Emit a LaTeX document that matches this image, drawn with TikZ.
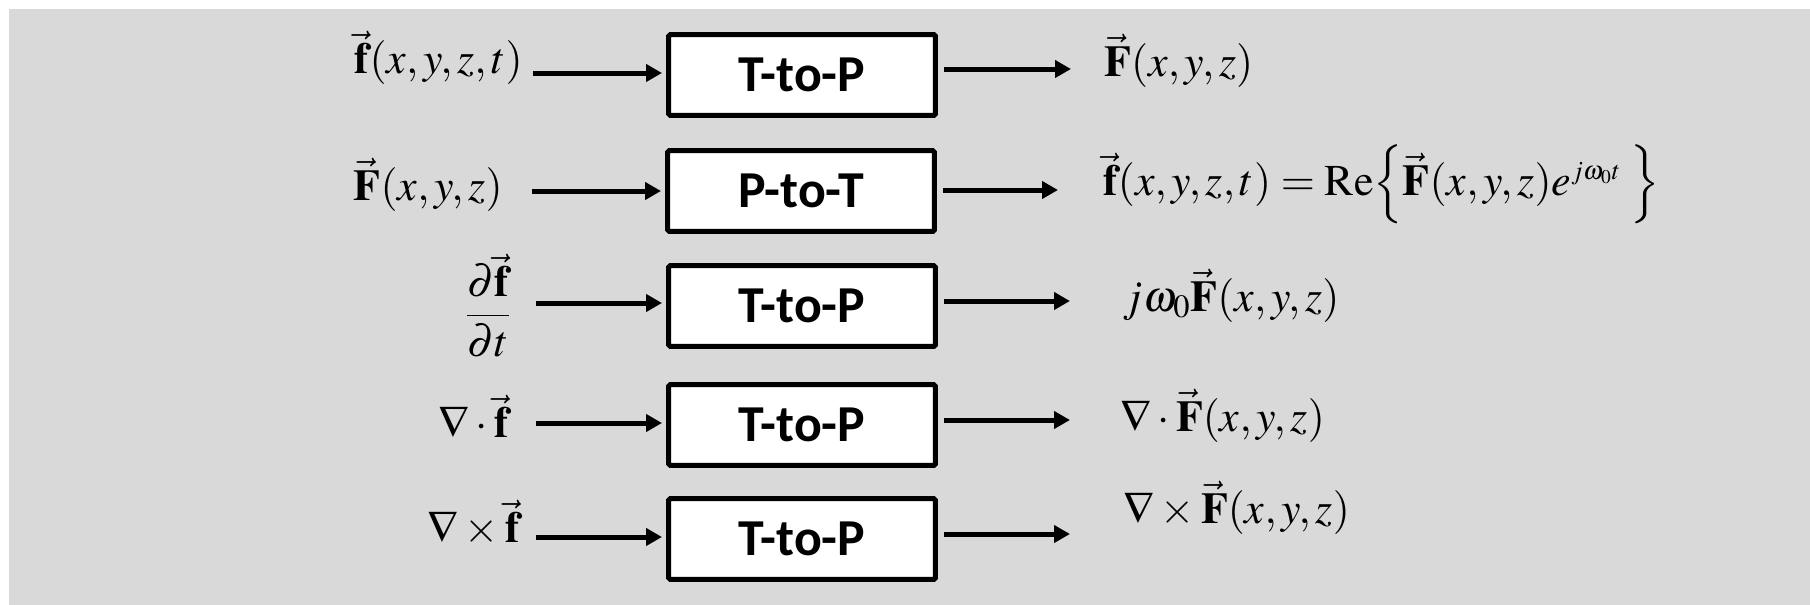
\documentclass[tikz,border=0pt]{standalone}
\usepackage{mathptmx}
\usepackage[no-math]{fontspec}
\newfontfamily\boxfont{Carlito}
\usetikzlibrary{arrows.meta}
\definecolor{panel}{HTML}{D9D9D9}
\newcommand{\phasor}{\mbox{\fontsize{15}{15}\selectfont$j\omega_0t$}}

\begin{document}
\begin{tikzpicture}[x=0.02cm,y=-0.02cm,
  blk/.style={draw,line width=0.1cm,fill=white,rounded corners=1pt,
    minimum width=5.34cm,minimum height=1.62cm,inner sep=0pt,
    font=\boxfont\bfseries\fontsize{29.5}{32}\selectfont},
  arr/.style={line width=0.1cm,-{Triangle[length=0.32cm,width=0.34cm]}},
  lbl/.style={inner sep=0pt,font=\fontsize{25}{30}\selectfont}]
  \useasboundingbox (0,0) rectangle (1810,605);
  \fill[white] (0,0) rectangle (1810,605);
  \fill[panel] (9,9) rectangle (1810,605);

  % the five blocks
  \node[blk] (b1) at (802,75) {T-to-P};
  \node[blk] (b2) at (801,191) {P-to-T};
  \node[blk] (b3) at (802,306) {T-to-P};
  \node[blk] (b4) at (802,425) {T-to-P};
  \node[blk] (b5) at (802,539) {T-to-P};

  % inputs
  \node[lbl,anchor=base east] (in1) at (523,73) {$\vec{\mathbf{f}}(x,y,z,t)$};
  \node[lbl,anchor=base east] (in2) at (503,200) {$\vec{\mathbf{F}}(x,y,z)$};
  \node[lbl] (in3) at (488,306) {$\displaystyle\frac{\partial\vec{\mathbf{f}}}{\partial t}$};
  \node[lbl,anchor=base east] (in4) at (509,437) {$\nabla\cdot\vec{\mathbf{f}}$};
  \node[lbl,anchor=base east] (in5) at (520,542) {$\nabla\times\vec{\mathbf{f}}$};

  % outputs
  \node[lbl,anchor=base west] (out1) at (1104,76) {$\vec{\mathbf{F}}(x,y,z)$};
  \node[lbl,anchor=base west] (out2) at (1103,195)
    {$\vec{\mathbf{f}}(x,y,z,t)=\mathrm{Re}\Bigl\{\vec{\mathbf{F}}(x,y,z)e^{\phasor}\;\Bigr\}$};
  \node[lbl,anchor=base west] (out3) at (1123,311) {$j\omega_0\vec{\mathbf{F}}(x,y,z)$};
  \node[lbl,anchor=base west] (out4) at (1120,431) {$\nabla\cdot\vec{\mathbf{F}}(x,y,z)$};
  \node[lbl,anchor=base west] (out5) at (1123,523) {$\nabla\times\vec{\mathbf{F}}(x,y,z)$};

  % arrow ends
  \coordinate (a1) at (533,73);
  \coordinate (a2) at (532,191);
  \coordinate (a3) at (536,303);
  \coordinate (a4) at (536,423);
  \coordinate (a5) at (536,537);
  \coordinate (e1) at (1071,69);
  \coordinate (e2) at (1058,190);
  \coordinate (e3) at (1070,301);
  \coordinate (e4) at (1070,420);
  \coordinate (e5) at (1070,534);

  \foreach \i in {1,...,5}{
    \draw[arr,shorten >=0.08cm] (a\i) -- (a\i -| b\i.west);
    \draw[arr,shorten <=0.12cm] (e\i -| b\i.east) -- (e\i);
  }
\end{tikzpicture}
\end{document}
